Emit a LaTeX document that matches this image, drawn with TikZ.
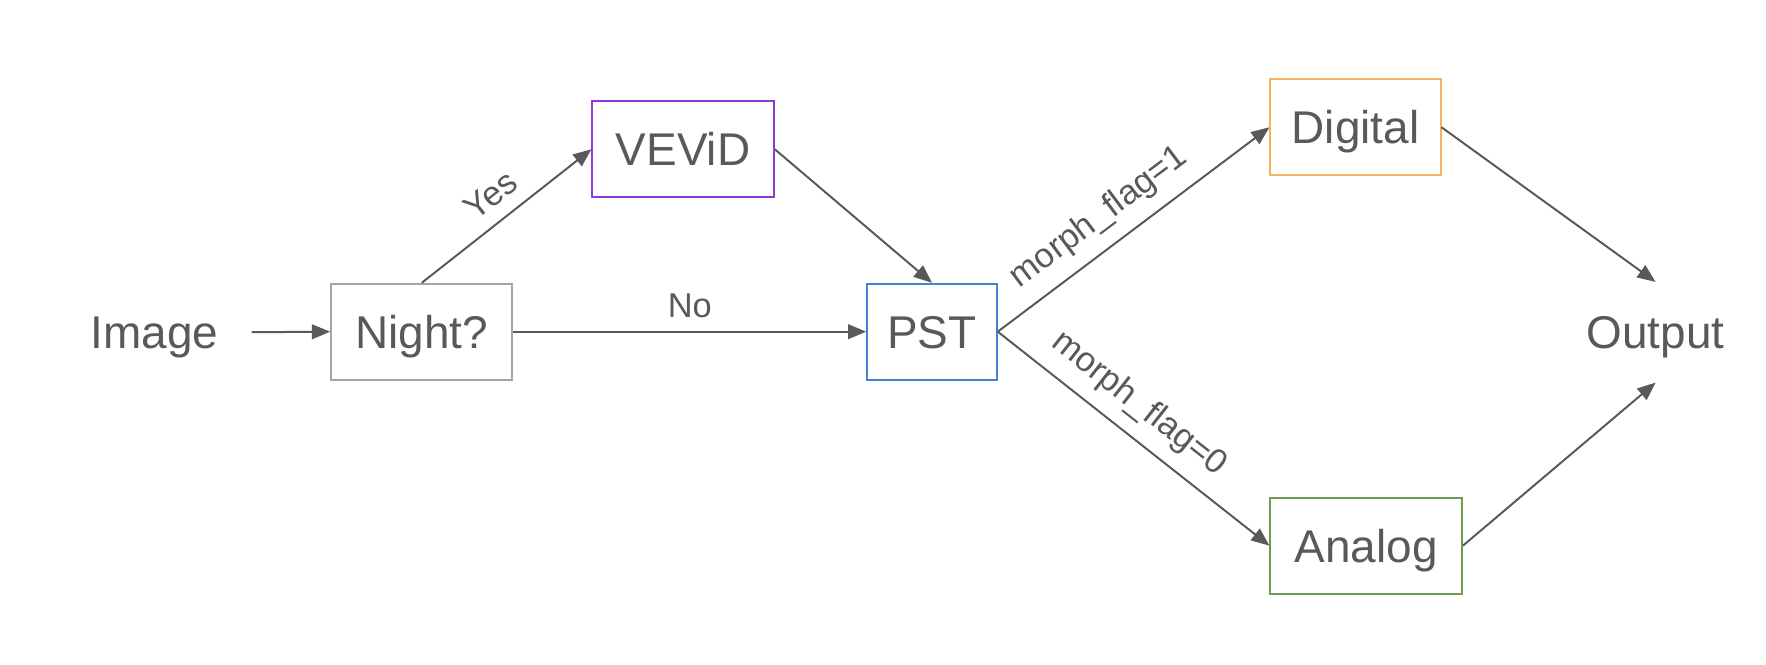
\documentclass[tikz,border=0pt]{standalone}
\usepackage{fontspec}
\setmainfont{Liberation Sans}
\usepackage{xcolor}
\usepackage{tikz}
\usetikzlibrary{arrows.meta,positioning,calc}

\definecolor{txtgray}{HTML}{595959}
\definecolor{boxgray}{HTML}{A6A6A6}
\definecolor{boxpurple}{HTML}{8E3BD8}
\definecolor{boxblue}{HTML}{4A7FD6}
\definecolor{boxorange}{HTML}{F2B35C}
\definecolor{boxgreen}{HTML}{6E9A52}

\begin{document}
\begin{tikzpicture}[x=0.1mm, y=-0.1mm,
    stage/.style={rectangle, draw, line width=0.5pt, text=txtgray, minimum height=8.5mm, text height=8.3pt, text depth=0pt, font=\fontsize{11.6}{14}\selectfont},
    term/.style={text=txtgray, minimum height=8.8mm, text height=8.3pt, text depth=0pt, font=\fontsize{11.6}{14}\selectfont},
    arrow/.style={-{Triangle[length=4.6pt,width=3.7pt]}, line width=0.5pt, draw=txtgray},
    lbl/.style={text=txtgray, font=\fontsize{8.7}{10}\selectfont}]

    \useasboundingbox (0,0) rectangle (1568,589.6);

    \node[term, inner xsep=2.9mm] (img) at (137,295) {Image};
    \node[stage, draw=boxgray, minimum width=16.1mm] (night) at (374.5,294.5) {Night?};
    \node[stage, draw=boxpurple, minimum width=16.1mm] (vevid) at (606.5,132.5) {VEViD};
    \node[stage, draw=boxblue, minimum width=11.5mm] (pst) at (827.5,294.5) {PST};
    \node[stage, draw=boxorange, minimum width=15.1mm] (dig) at (1203.5,113) {Digital};
    \node[stage, draw=boxgreen, minimum width=17.0mm] (ana) at (1213,484.5) {Analog};
    \node[term] (out) at (1470,295) {Output};

    \draw[arrow] (img.east) -- (night.west);
    \draw[arrow] (night.north) -- node[lbl, above, sloped] {Yes} (vevid.west);
    \draw[arrow] (night.east) -- node[lbl, above] {No} (pst.west);
    \draw[arrow] (vevid.east) -- (pst.north);
    \draw[arrow] (pst.east) -- node[lbl, above, sloped, pos=0.44] {morph\_flag=1} (dig.west);
    \draw[arrow] (pst.east) -- node[lbl, above, sloped, pos=0.45] {morph\_flag=0} (ana.west);
    \draw[arrow] (dig.east) -- (out.north);
    \draw[arrow] (ana.east) -- (out.south);
\end{tikzpicture}
\end{document}
